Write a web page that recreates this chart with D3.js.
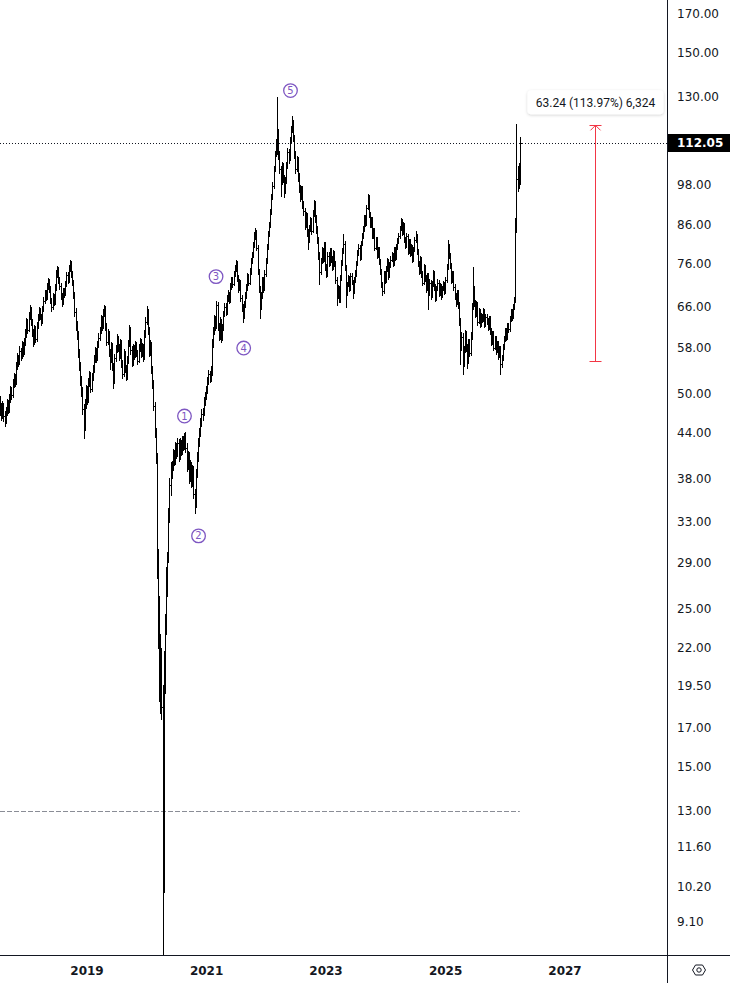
<!DOCTYPE html>
<html>
<head>
<meta charset="utf-8">
<script src="https://cdn.jsdelivr.net/npm/d3@7"></script>
<style>
  html, body { margin: 0; padding: 0; background: #fff; }
  svg { display: block; }
</style>
</head>
<body>
<svg id="chart" width="730" height="983"></svg>
<script>
// weekly bars, [open, high, low, close], first week starts 2017-07-24
var firstWeek = new Date(2017, 6, 24);

var bars2017 = [[48.3,49.6,46.6,47.5],[47.5,48.4,45.9,46.8],[46.8,48.8,46.2,47.9],[47.9,48.5,45.7,46.5],[46.5,47.2,45.0,45.8],[45.8,47.8,45.4,47.0],[47.0,49.0,46.6,48.2],[48.2,48.9,46.9,47.4],[47.4,49.8,47.0,49.0],[49.0,51.2,48.6,50.5],[50.5,51.0,49.1,49.8],[49.8,52.3,49.4,51.5],[51.5,53.4,51.0,52.6],[52.6,53.1,51.2,51.8],[51.8,55.3,51.5,54.5],[54.5,56.9,54.0,56.0],[56.0,56.6,54.5,55.2],[55.2,58.2,54.9,57.4],[57.4,57.9,55.6,56.3],[56.3,59.1,56.0,58.2],[58.2,58.9,56.4,57.0],[57.0,59.8,56.7,58.8],[58.8,61.5,58.3,60.5]];

var bars2018 = [[60.5,63.6,60.0,62.8],[62.8,63.4,60.6,61.4],[61.4,65.0,61.0,64.2],[64.2,66.4,63.5,65.5],[65.5,66.0,62.2,63.0],[63.0,63.5,60.1,60.8],[60.8,61.4,58.2,58.9],[58.9,62.2,58.5,61.5],[61.5,62.0,59.0,59.6],[59.6,62.8,59.2,62.0],[62.0,64.5,61.6,63.8],[63.8,65.9,63.2,65.2],[65.2,65.7,63.4,64.0],[64.0,64.6,62.3,62.9],[62.9,66.3,62.6,65.6],[65.6,68.2,65.1,67.4],[67.4,69.8,66.9,69.0],[69.0,69.6,67.5,68.2],[68.2,71.4,67.8,70.6],[70.6,72.5,70.0,71.8],[71.8,72.2,69.3,70.0],[70.0,70.5,66.8,67.5],[67.5,68.0,65.2,66.0],[66.0,69.0,65.6,68.3],[68.3,68.9,66.4,67.0],[67.0,71.0,66.6,70.2],[70.2,74.3,69.8,73.5],[73.5,75.4,72.8,74.6],[74.6,75.0,71.3,72.0],[72.0,72.6,70.0,70.8],[70.8,71.3,67.7,68.4],[68.4,69.0,66.2,67.0],[67.0,70.2,66.6,69.5],[69.5,70.1,68.2,68.9],[68.9,71.7,68.5,71.0],[71.0,73.9,70.5,73.2],[73.2,73.8,71.3,72.0],[72.0,75.5,71.6,74.8],[74.8,76.8,74.2,76.0],[76.0,76.5,72.6,73.4],[73.4,74.0,70.8,71.5],[71.5,72.1,67.9,68.6],[68.6,69.2,64.2,65.0],[65.0,65.7,61.2,62.0],[62.0,63.0,59.6,60.5],[60.5,61.0,56.2,57.0],[57.0,57.6,53.8,54.5],[54.5,55.2,51.3,52.0],[52.0,52.8,49.5,50.3],[50.3,51.0,46.8,47.5],[47.5,48.2,43.2,45.0],[45.0,49.0,44.4,48.2],[48.2,51.3,47.6,50.6]];

var bars2019 = [[50.6,51.2,48.3,49.0],[49.0,52.5,48.6,51.8],[51.8,53.7,51.2,53.0],[53.0,53.5,50.1,50.8],[50.8,53.3,50.4,52.6],[52.6,54.8,52.1,54.0],[54.0,56.5,53.6,55.7],[55.7,58.0,55.2,57.2],[57.2,57.8,55.3,56.0],[56.0,59.2,55.6,58.5],[58.5,60.6,58.0,59.8],[59.8,61.9,59.3,61.0],[61.0,64.3,60.6,63.5],[63.5,64.0,61.3,62.0],[62.0,65.6,61.6,64.8],[64.8,66.5,64.2,65.8],[65.8,66.3,61.3,62.0],[62.0,62.6,58.3,59.0],[59.0,61.4,58.6,60.6],[60.6,61.1,56.3,57.0],[57.0,57.6,54.0,55.8],[55.8,59.0,55.3,58.2],[58.2,58.8,53.9,54.6],[54.6,55.1,50.8,52.0],[52.0,56.8,51.6,56.0],[56.0,58.3,55.5,57.5],[57.5,60.4,57.0,59.6],[59.6,60.1,57.3,58.0],[58.0,58.6,55.7,56.4],[56.4,59.6,56.0,58.8],[58.8,59.3,54.4,55.0],[55.0,55.6,52.5,53.2],[53.2,57.6,52.8,56.8],[56.8,57.3,53.5,54.2],[54.2,54.8,52.2,52.8],[52.8,56.3,52.4,55.5],[55.5,59.4,55.1,58.6],[58.6,62.2,58.1,61.4],[61.4,61.9,56.8,57.5],[57.5,58.1,54.5,55.2],[55.2,58.6,54.8,57.8],[57.8,58.3,55.8,56.5],[56.5,59.2,56.1,58.4],[58.4,58.9,56.3,57.0],[57.0,57.5,55.0,55.6],[55.6,58.6,55.2,57.8],[57.8,59.8,57.3,59.0],[59.0,59.5,56.1,56.8],[56.8,58.8,56.4,58.0],[58.0,58.5,55.5,56.2],[56.2,61.3,55.8,60.5],[60.5,63.8,60.0,63.0]];

var bars2020 = [[63.0,66.2,62.5,65.0],[65.0,65.5,60.5,61.2],[61.2,61.8,56.4,57.0],[57.0,59.3,56.6,58.5],[58.5,59.0,53.3,54.0],[54.0,54.6,50.8,51.5],[51.5,52.1,47.4,48.0],[48.0,48.6,43.4,44.0],[44.0,44.7,39.9,40.5],[40.5,41.2,27.5,29.0],[29.0,30.2,22.0,24.0],[24.0,26.0,18.5,20.0],[20.0,23.0,17.8,21.0],[21.0,22.0,17.5,18.2],[18.2,19.5,7.0,10.5],[10.5,21.8,10.0,20.5],[20.5,24.5,19.0,23.8],[23.8,28.5,23.0,27.5],[27.5,30.0,26.0,29.5],[29.5,34.5,29.0,33.8],[33.8,38.0,33.0,37.2],[37.2,40.0,36.0,38.5],[38.5,40.2,38.0,39.5],[39.5,41.8,39.0,41.0],[41.0,41.6,39.6,40.2],[40.2,42.7,39.8,42.0],[42.0,42.5,40.6,41.2],[41.2,43.3,40.8,42.6],[42.6,43.1,40.2,40.8],[40.8,43.2,40.4,42.5],[42.5,43.0,40.9,41.5],[41.5,43.6,41.1,43.0],[43.0,43.5,41.6,42.2],[42.2,44.0,41.8,43.6],[43.6,44.1,41.4,42.0],[42.0,42.5,38.9,39.5],[39.5,41.5,39.1,40.8],[40.8,41.3,37.4,38.0],[38.0,40.3,37.6,39.6],[39.6,40.1,36.9,37.5],[37.5,39.7,37.1,39.0],[39.0,39.5,35.6,36.2],[36.2,36.7,34.0,35.0],[35.0,39.2,34.6,38.5],[38.5,41.3,38.1,40.6],[40.6,43.2,40.2,42.5],[42.5,44.7,42.1,44.0],[44.0,46.2,43.6,45.5],[45.5,47.5,45.0,46.8],[46.8,47.6,45.9,47.0],[47.0,49.3,46.6,48.6],[48.6,50.2,48.1,49.5]];

var bars2021 = [[49.5,51.2,49.0,50.5],[50.5,52.7,50.0,52.0],[52.0,53.9,51.5,53.2],[53.2,53.7,51.8,52.4],[52.4,54.5,52.0,53.8],[53.8,59.5,53.0,58.5],[58.5,61.9,58.0,61.0],[61.0,64.4,60.5,63.5],[63.5,64.0,61.3,62.0],[62.0,67.3,61.6,66.5],[66.5,67.0,61.3,62.0],[62.0,62.6,59.3,60.0],[60.0,63.8,59.6,63.0],[63.0,63.5,59.0,59.8],[59.8,62.5,59.4,61.8],[61.8,65.2,61.3,64.5],[64.5,66.9,64.0,66.2],[66.2,66.8,64.3,65.0],[65.0,68.5,64.6,67.8],[67.8,69.6,67.3,68.8],[68.8,69.3,66.8,67.5],[67.5,71.2,67.1,70.5],[70.5,72.8,70.0,72.0],[72.0,72.6,70.4,71.2],[71.2,74.2,70.8,73.5],[73.5,75.6,73.0,74.8],[74.8,76.8,74.2,76.0],[76.0,76.5,71.8,72.5],[72.5,73.1,69.3,70.0],[70.0,72.3,69.6,71.5],[71.5,72.0,67.3,68.0],[68.0,68.6,65.2,66.0],[66.0,66.6,62.8,64.0],[64.0,67.2,63.6,66.5],[66.5,69.2,66.0,68.5],[68.5,71.0,68.0,70.2],[70.2,73.6,69.8,72.8],[72.8,73.4,70.8,71.5],[71.5,74.8,71.1,74.0],[74.0,77.3,73.5,76.5],[76.5,78.8,76.0,78.0],[78.0,81.3,77.5,80.5],[80.5,84.0,80.0,83.0],[83.0,85.2,82.2,84.0],[84.0,84.6,79.2,80.0],[80.0,80.6,73.3,74.0],[74.0,74.6,69.3,70.0],[70.0,70.6,63.7,66.0],[66.0,69.2,65.5,68.5],[68.5,72.8,68.0,72.0],[72.0,72.6,69.3,70.0],[70.0,74.3,69.6,73.5]];

var bars2022 = [[73.5,77.3,73.0,76.5],[76.5,80.8,76.0,80.0],[80.0,84.4,79.5,83.5],[83.5,86.9,83.0,86.0],[86.0,90.4,85.4,89.5],[89.5,95.0,89.0,94.0],[94.0,98.6,93.4,97.5],[97.5,104.0,97.0,103.0],[103.0,109.2,102.3,108.0],[108.0,113.3,107.3,112.0],[112.0,130.0,108.0,116.0],[116.0,117.0,106.5,108.0],[108.0,109.0,101.5,103.0],[103.0,104.0,94.5,98.5],[98.5,105.3,98.0,104.0],[104.0,105.0,98.8,100.0],[100.0,101.0,94.0,96.0],[96.0,100.2,95.4,99.0],[99.0,105.2,98.4,104.0],[104.0,110.2,103.4,109.0],[109.0,110.0,105.0,106.5],[106.5,114.3,106.0,113.0],[113.0,118.4,112.3,117.0],[117.0,122.0,116.0,119.5],[119.5,120.5,112.6,114.0],[114.0,115.0,106.6,108.0],[108.0,109.0,101.6,103.0],[103.0,107.3,102.4,106.0],[106.0,107.0,99.0,100.5],[100.5,101.5,95.5,97.0],[97.0,97.9,92.8,94.0],[94.0,97.6,93.4,96.5],[96.5,97.4,90.8,92.0],[92.0,92.9,88.8,90.0],[90.0,90.9,84.8,86.0],[86.0,89.5,85.4,88.5],[88.5,89.4,82.9,84.0],[84.0,84.8,79.5,82.0],[82.0,86.0,81.4,85.0],[85.0,88.1,84.4,87.0],[87.0,87.9,83.4,84.5],[84.5,90.1,84.0,89.0],[89.0,93.2,88.4,92.0],[92.0,92.9,86.9,88.0],[88.0,88.9,83.9,85.0],[85.0,85.8,81.0,82.0],[82.0,82.8,77.0,78.0],[78.0,78.8,71.0,74.0],[74.0,77.4,73.4,76.5],[76.5,80.0,76.0,79.0],[79.0,79.8,76.2,77.0],[77.0,81.4,76.5,80.5]];

var bars2023 = [[80.5,81.3,74.3,75.0],[75.0,75.7,72.6,73.5],[73.5,78.8,73.0,78.0],[78.0,78.7,75.3,76.0],[76.0,79.8,75.5,79.0],[79.0,79.7,76.3,77.0],[77.0,77.7,74.4,75.0],[75.0,79.2,74.6,78.5],[78.5,79.1,75.4,76.0],[76.0,76.6,71.4,72.0],[72.0,72.6,66.4,68.5],[68.5,70.8,68.0,70.0],[70.0,70.6,67.0,67.5],[67.5,73.2,67.1,72.5],[72.5,76.8,72.0,76.0],[76.0,79.8,75.5,79.0],[79.0,83.5,78.5,81.0],[81.0,81.6,74.4,75.0],[75.0,75.6,66.0,69.0],[69.0,71.6,68.5,71.0],[71.0,73.2,70.6,72.5],[72.5,73.0,69.5,70.0],[70.0,73.6,69.6,73.0],[73.0,73.6,71.0,71.5],[71.5,72.0,68.0,69.5],[69.5,72.6,69.1,72.0],[72.0,74.3,71.6,73.5],[73.5,76.6,73.0,76.0],[76.0,79.2,75.5,78.5],[78.5,80.8,78.0,80.0],[80.0,80.6,76.9,77.5],[77.5,81.7,77.1,81.0],[81.0,83.8,80.5,83.0],[83.0,85.8,82.4,85.0],[85.0,88.8,84.4,88.0],[88.0,88.7,85.8,86.5],[86.5,91.8,86.0,91.0],[91.0,95.0,90.4,94.0],[94.0,94.7,88.3,89.0],[89.0,89.6,85.4,86.0],[86.0,88.2,85.5,87.5],[87.5,88.1,82.3,83.0],[83.0,85.2,82.5,84.5],[84.5,85.1,79.3,80.0],[80.0,82.7,79.5,82.0],[82.0,82.6,77.3,78.0],[78.0,80.2,77.5,79.5],[79.5,80.1,75.8,76.5],[76.5,77.1,73.3,74.0],[74.0,74.6,70.3,71.0],[71.0,71.6,68.6,69.5],[69.5,74.2,69.0,73.5]];

var bars2024 = [[73.5,74.1,71.3,72.0],[72.0,75.2,71.6,74.5],[74.5,77.3,74.0,76.5],[76.5,77.1,72.3,73.0],[73.0,76.2,72.6,75.5],[75.5,77.8,75.0,77.0],[77.0,78.8,76.5,78.0],[78.0,78.6,75.3,76.0],[76.0,80.2,75.6,79.5],[79.5,80.1,76.9,77.5],[77.5,80.8,77.1,80.0],[80.0,82.3,79.5,81.5],[81.5,83.8,81.0,83.0],[83.0,85.8,82.5,85.0],[85.0,88.0,84.5,87.0],[87.0,87.6,83.3,84.0],[84.0,86.8,83.6,86.0],[86.0,86.6,81.3,82.0],[82.0,82.6,79.8,80.5],[80.5,83.8,80.0,83.0],[83.0,83.6,78.4,79.0],[79.0,82.2,78.6,81.5],[81.5,82.1,77.8,78.5],[78.5,80.8,78.0,80.0],[80.0,80.6,76.3,77.0],[77.0,80.2,76.6,79.5],[79.5,82.8,79.0,82.0],[82.0,84.3,81.5,83.0],[83.0,83.6,78.3,79.0],[79.0,79.6,75.3,76.0],[76.0,76.6,73.3,74.0],[74.0,77.8,73.6,77.0],[77.0,77.6,72.8,73.5],[73.5,74.1,70.8,71.5],[71.5,75.8,71.1,75.0],[75.0,75.6,71.8,72.5],[72.5,73.1,69.3,70.0],[70.0,73.7,69.6,73.0],[73.0,73.6,65.6,69.0],[69.0,72.2,68.6,71.5],[71.5,72.1,67.8,68.5],[68.5,71.7,68.1,71.0],[71.0,74.4,70.6,73.5],[73.5,74.1,69.8,70.5],[70.5,71.1,67.3,68.0],[68.0,70.7,67.6,70.0],[70.0,72.2,69.6,71.5],[71.5,72.1,68.3,69.0],[69.0,71.2,68.6,70.5],[70.5,71.1,67.8,68.5],[68.5,70.6,68.1,70.0],[70.0,71.7,69.6,71.0],[71.0,71.6,68.8,69.5]];

var bars2025 = [[69.5,72.7,69.1,72.0],[72.0,75.8,71.6,75.0],[75.0,82.0,74.5,80.0],[80.0,80.8,77.3,78.0],[78.0,78.6,74.8,75.5],[75.5,76.1,71.3,72.0],[72.0,74.2,71.6,73.5],[73.5,74.1,69.8,70.5],[70.5,71.1,67.8,68.5],[68.5,69.1,66.3,67.0],[67.0,69.7,66.6,69.0],[69.0,69.6,65.8,66.5],[66.5,67.1,62.3,63.0],[63.0,63.6,55.0,58.0],[58.0,60.8,57.5,60.0],[60.0,60.6,53.2,55.0],[55.0,58.2,54.6,57.5],[57.5,61.2,57.0,60.5],[60.5,61.1,57.3,58.0],[58.0,58.6,54.2,55.5],[55.5,59.6,55.1,59.0],[59.0,59.6,56.3,57.0],[57.0,60.8,56.6,60.0],[60.0,66.8,59.6,66.0],[66.0,75.0,65.5,70.0],[70.0,70.6,66.3,67.0],[67.0,67.6,63.8,64.5],[64.5,67.2,64.1,66.5],[66.5,67.1,62.3,63.0],[63.0,65.7,62.6,65.0],[65.0,65.6,61.8,62.5],[62.5,64.7,62.1,64.0],[64.0,64.6,62.8,63.5],[63.5,65.7,63.1,65.0],[65.0,65.6,61.8,62.5],[62.5,64.6,62.1,64.0],[64.0,64.6,62.4,63.0],[63.0,63.6,61.3,61.8],[61.8,64.1,61.4,63.5],[63.5,64.1,60.5,61.0],[61.0,61.6,58.4,59.0],[59.0,61.1,58.6,60.5],[60.5,61.1,57.4,58.0],[58.0,60.1,57.6,59.5],[59.5,60.1,56.8,57.5],[57.5,59.1,57.1,58.5],[58.5,59.1,55.8,56.5],[56.5,58.1,56.1,57.5],[57.5,58.1,53.2,55.0],[55.0,56.6,54.3,56.0],[56.0,58.6,55.6,58.0],[58.0,60.1,57.6,59.5]];

var bars2026 = [[59.5,61.6,59.1,61.0],[61.0,61.6,59.4,60.0],[60.0,62.7,59.6,62.0],[62.0,62.6,60.8,61.5],[61.5,64.1,61.1,63.5],[63.5,65.6,63.1,65.0],[65.0,65.6,63.3,64.0],[64.0,66.7,63.6,66.0],[66.0,68.2,65.5,67.5],[67.5,88.0,67.0,86.0],[86.0,119.0,84.0,100.0],[100.0,104.0,96.0,99.0],[99.0,105.0,97.0,101.0],[101.0,114.0,98.0,112.05]];

var priceTicks = [170, 150, 130, 98, 86, 76, 66, 58, 50, 44, 38, 33, 29, 25, 22, 19.5, 17, 15, 13, 11.6, 10.2, 9.1];
var yearTicks = [2019, 2021, 2023, 2025, 2027];
var lastPrice = 112.05;
var supportLevel = 13.00;

// measure tool
var measureFrom = 55.49, measureTo = 118.73;
var measureDate = new Date(2027, 6, 8);
var measureText = "63.24 (113.97%) 6,324";

// elliott wave marks
var waveNames = ["1", "2", "3", "4", "5"];
var waveDates = [new Date(2020, 7, 25), new Date(2020, 10, 19), new Date(2021, 2, 6), new Date(2021, 7, 22), new Date(2022, 5, 4)];
var wavePrices = [46.5, 31.6, 72.9, 57.9, 132.8];

var svg = d3.select("#chart");
var width = 730, height = 983;
var plotW = 667, plotH = 955;

var allBars = [].concat(bars2017, bars2018, bars2019, bars2020, bars2021, bars2022, bars2023, bars2024, bars2025, bars2026)
  .map(function(b, i) {
    return {date: d3.timeWeek.offset(firstWeek, i), o: b[0], h: b[1], l: b[2], c: b[3]};
  });

var x = d3.scaleTime()
    .domain([new Date(2019, 0, 1), new Date(2027, 0, 1)])
    .range([86, 564]);

var y = d3.scaleLog()
    .domain([9.1, 170])
    .range([922, 14]);

svg.append("rect").attr("width", width).attr("height", height).attr("fill", "#fff");

svg.append("defs").append("clipPath").attr("id", "plotclip")
  .append("rect").attr("x", 0).attr("y", 0).attr("width", plotW).attr("height", plotH);

var plot = svg.append("g").attr("clip-path", "url(#plotclip)");

// 13.00 dashed level
var lastDate = allBars[allBars.length - 1].date;
plot.append("line")
    .attr("x1", 0).attr("x2", x(lastDate))
    .attr("y1", Math.round(y(supportLevel)) + 0.5).attr("y2", Math.round(y(supportLevel)) + 0.5)
    .attr("stroke", "#8a8d96")
    .attr("stroke-width", 1)
    .attr("stroke-dasharray", "5,2");

// last price dotted line
plot.append("line")
    .attr("x1", 0).attr("x2", plotW)
    .attr("y1", Math.round(y(lastPrice)) + 0.5).attr("y2", Math.round(y(lastPrice)) + 0.5)
    .attr("stroke", "#131722")
    .attr("stroke-width", 1)
    .attr("stroke-dasharray", "1,2");

// ohlc bars
plot.append("g")
    .attr("class", "bars")
    .selectAll("path")
    .data(allBars)
    .enter().append("path")
    .attr("fill", "none")
    .attr("stroke", "#000")
    .attr("stroke-width", 1)
    .attr("shape-rendering", "crispEdges")
    .attr("d", function(d) {
      var cx = Math.round(x(d.date)) + 0.5;
      var yo = Math.round(y(d.o)) + 0.5, yc = Math.round(y(d.c)) + 0.5;
      return "M" + cx + "," + Math.floor(y(d.h)) + "V" + Math.ceil(y(d.l)) +
             "M" + (cx - 1.5) + "," + yo + "H" + cx +
             "M" + cx + "," + yc + "H" + (cx + 1.5);
    });

// wave labels
var waves = plot.append("g").attr("class", "waves")
    .selectAll("g")
    .data(waveNames)
    .enter().append("g")
    .attr("transform", function(d, i) { return "translate(" + x(waveDates[i]) + "," + y(wavePrices[i]) + ")"; });

waves.append("circle")
    .attr("r", 6.8)
    .attr("fill", "#fff")
    .attr("stroke", "#7e57c2")
    .attr("stroke-width", 1.3);

waves.append("text")
    .attr("text-anchor", "middle")
    .attr("dy", "0.36em")
    .attr("fill", "#7e57c2")
    .attr("font-family", "DejaVu Sans, sans-serif")
    .attr("font-size", 10)
    .text(function(d) { return d; });

// measure tool
var mx = Math.round(x(measureDate)) + 0.5;
var mTop = y(measureTo), mBot = y(measureFrom);
var meas = plot.append("g").attr("stroke", "#f23645").attr("stroke-width", 1).attr("fill", "none");
meas.append("line").attr("x1", mx).attr("x2", mx).attr("y1", mTop).attr("y2", mBot);
meas.append("line").attr("x1", mx - 6).attr("x2", mx + 6).attr("y1", Math.round(mTop) + 0.5).attr("y2", Math.round(mTop) + 0.5);
meas.append("line").attr("x1", mx - 6).attr("x2", mx + 6).attr("y1", Math.round(mBot) + 0.5).attr("y2", Math.round(mBot) + 0.5);
meas.append("path").attr("d", "M" + (mx - 5) + "," + (mTop + 5) + "L" + mx + "," + mTop + "L" + (mx + 5) + "," + (mTop + 5));

var filter = svg.select("defs").append("filter").attr("id", "shadow")
    .attr("x", "-20%").attr("y", "-40%").attr("width", "140%").attr("height", "180%");
filter.append("feDropShadow").attr("dx", 0).attr("dy", 1).attr("stdDeviation", 1.5)
    .attr("flood-color", "#000").attr("flood-opacity", 0.18);

var boxW = 136, boxH = 24;
svg.append("rect")
    .attr("x", mx - boxW / 2).attr("y", mTop - 35)
    .attr("width", boxW).attr("height", boxH)
    .attr("rx", 4)
    .attr("fill", "#fff")
    .attr("filter", "url(#shadow)");
svg.append("text")
    .attr("x", mx).attr("y", mTop - 35 + 16.5)
    .attr("text-anchor", "middle")
    .attr("fill", "#131722")
    .attr("font-family", "Roboto, sans-serif")
    .attr("font-size", 12)
    .text(measureText);

// axes frame
svg.append("line").attr("x1", plotW + 0.5).attr("x2", plotW + 0.5).attr("y1", 0).attr("y2", height)
    .attr("stroke", "#131722").attr("stroke-width", 1);
svg.append("line").attr("x1", 0).attr("x2", width).attr("y1", plotH + 0.5).attr("y2", plotH + 0.5)
    .attr("stroke", "#131722").attr("stroke-width", 1);

// price axis labels
svg.append("g")
    .selectAll("text")
    .data(priceTicks)
    .enter().append("text")
    .attr("x", 677)
    .attr("y", function(d) { return y(d) + 4; })
    .attr("fill", "#131722")
    .attr("font-family", "DejaVu Sans, sans-serif")
    .attr("font-size", 12)
    .text(function(d) { return d3.format(".2f")(d); });

// last price label
svg.append("rect")
    .attr("x", plotW + 1).attr("y", Math.round(y(lastPrice)) - 9)
    .attr("width", width - plotW - 1).attr("height", 18)
    .attr("fill", "#000");
svg.append("text")
    .attr("x", 677)
    .attr("y", y(lastPrice) + 4)
    .attr("fill", "#fff")
    .attr("font-family", "DejaVu Sans, sans-serif")
    .attr("font-weight", "bold")
    .attr("font-size", 12)
    .text(d3.format(".2f")(lastPrice));

// time axis labels
svg.append("g")
    .selectAll("text")
    .data(yearTicks)
    .enter().append("text")
    .attr("x", function(d) { return x(new Date(d, 0, 1)) + 1; })
    .attr("y", 975)
    .attr("text-anchor", "middle")
    .attr("fill", "#131722")
    .attr("font-family", "DejaVu Sans, sans-serif")
    .attr("font-weight", "bold")
    .attr("font-size", 12)
    .text(function(d) { return d; });

// settings icon in the corner
var icon = svg.append("g").attr("transform", "translate(699,970)")
    .attr("fill", "none").attr("stroke", "#131722").attr("stroke-width", 1);
icon.append("path").attr("d", "M-6.5,0L-3.5,-5H3.5L6.5,0L3.5,5H-3.5Z");
icon.append("circle").attr("r", 2.2);
</script>
</body>
</html>
